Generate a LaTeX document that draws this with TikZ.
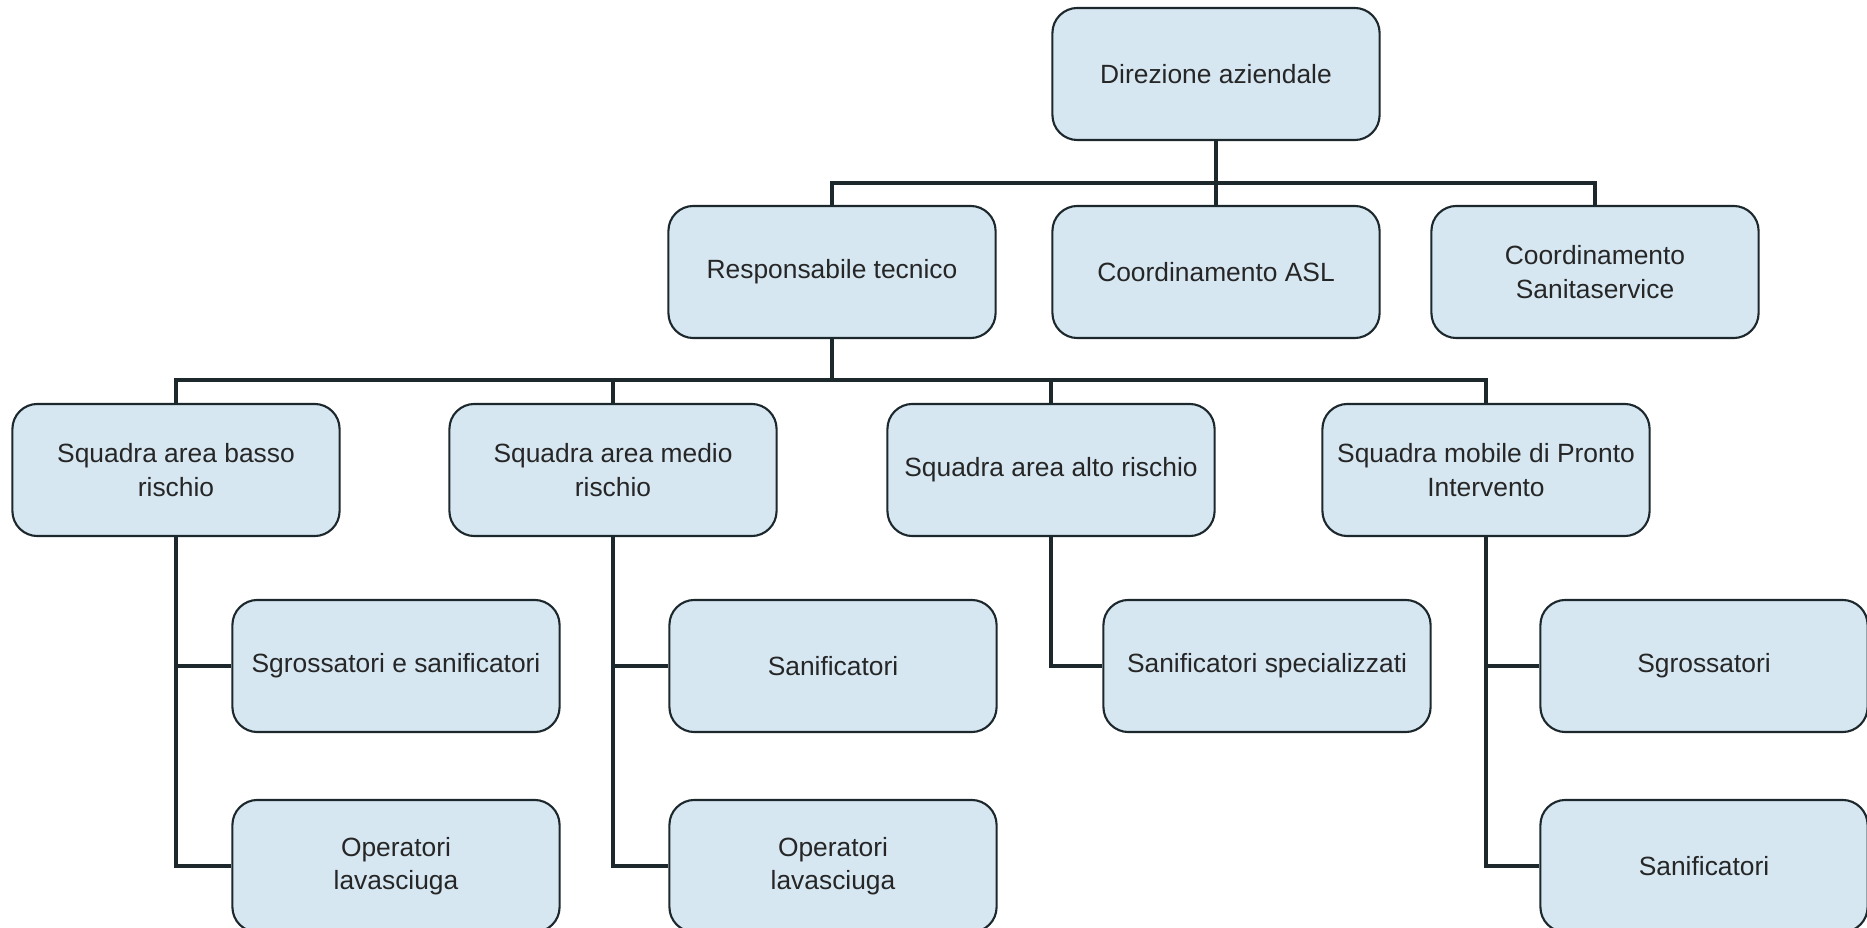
\documentclass[tikz,border=0pt]{standalone}
\usepackage{fontspec}
\setmainfont{Liberation Sans}
\definecolor{boxfill}{RGB}{214,231,242}
\definecolor{linedark}{RGB}{28,40,44}
\begin{document}
\begin{tikzpicture}[x=0.01cm,y=-0.01cm]
        \useasboundingbox (0,0) rectangle (1867,928);

        \begin{scope}[every node/.style={draw=linedark,fill=boxfill,line width=0.6pt,rounded corners=0.25cm,
            minimum width=3.27cm,minimum height=1.32cm,align=center,text=black!85,
            font=\fontsize{7.5}{9.5}\selectfont}]
          \node (dir)    at (1216,74)  {Direzione aziendale};
          \node (resp)   at (832,272)  {Responsabile tecnico};
          \node (asl)    at (1216,272) {Coordinamento ASL};
          \node (sanit)  at (1595,272) {Coordinamento\\Sanitaservice};
          \node (basso)  at (176,470)  {Squadra area basso\\rischio};
          \node (medio)  at (613,470)  {Squadra area medio\\rischio};
          \node (alto)   at (1051,470) {Squadra area alto rischio};
          \node (mobile) at (1486,470) {Squadra mobile di Pronto\\Intervento};
          \node (sgsan)  at (396,666)  {Sgrossatori e sanificatori};
          \node (oper1)  at (396,866)  {Operatori\\lavasciuga};
          \node (san1)   at (833,666)  {Sanificatori};
          \node (oper2)  at (833,866)  {Operatori\\lavasciuga};
          \node (spec)   at (1267,666) {Sanificatori specializzati};
          \node (sgr)    at (1704,666) {Sgrossatori};
          \node (san2)   at (1704,866) {Sanificatori};
        \end{scope}

        \coordinate (j0) at (1216,183);
        \coordinate (j1) at (832,380);

        \begin{scope}[draw=linedark,line width=1.4pt]
          \draw (dir) -- (asl);
          \draw (resp.north) |- (j0) -| (sanit.north);
          \draw (resp) -- (j1);
          \draw (basso.north) |- (j1) -| (mobile.north);
          \draw (medio.north) -- (medio.north |- j1);
          \draw (alto.north) -- (alto.north |- j1);
          \draw (basso.south) |- (oper1.west);
          \draw (basso.south |- sgsan.west) -- (sgsan.west);
          \draw (medio.south) |- (oper2.west);
          \draw (medio.south |- san1.west) -- (san1.west);
          \draw (alto.south) |- (spec.west);
          \draw (mobile.south) |- (san2.west);
          \draw (mobile.south |- sgr.west) -- (sgr.west);
        \end{scope}

      \end{tikzpicture}
\end{document}
